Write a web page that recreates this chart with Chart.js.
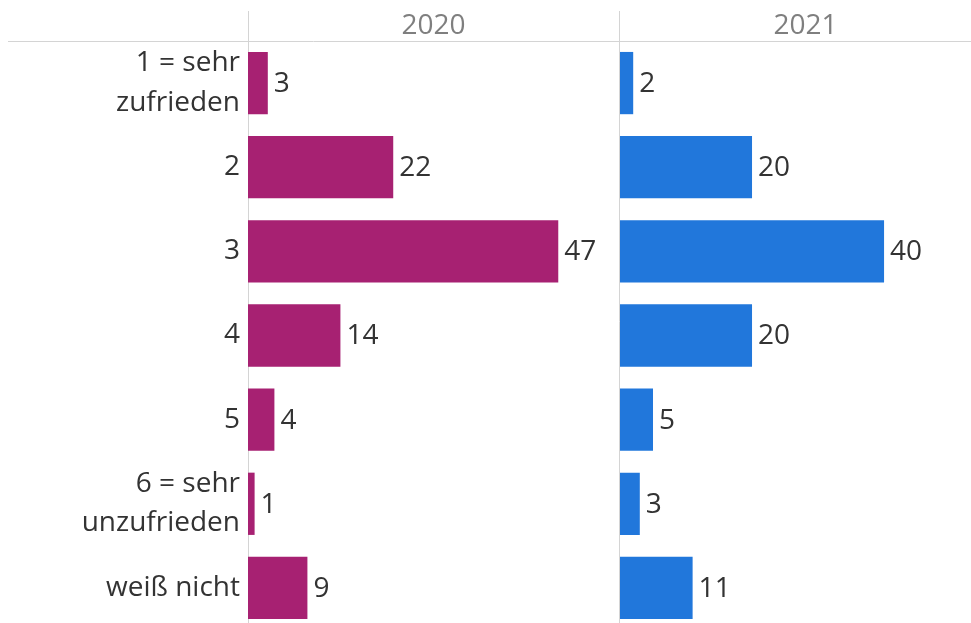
<!DOCTYPE html>
<html>
<head>
<meta charset="utf-8">
<script src="https://cdn.jsdelivr.net/npm/chart.js@4.4.0/dist/chart.umd.min.js"></script>
<style>
  html, body { margin: 0; padding: 0; background: #fff; overflow: hidden; width: 971px; height: 623px; }
  .pane { position: absolute; top: 0; }
</style>
</head>
<body>
<div class="pane" style="left:0px;width:619px;height:632px"><canvas id="c2020" width="619" height="632"></canvas></div>
<div class="pane" style="left:619px;width:372px;height:632px"><canvas id="c2021" width="372" height="632"></canvas></div>
<script>
// categories and values
var categories = [['1 = sehr', 'zufrieden'], '2', '3', '4', '5', ['6 = sehr', 'unzufrieden'], 'weiß nicht'];
var years = ['2020', '2021'];
var values2020 = [3, 22, 47, 14, 4, 1, 9];
var values2021 = [2, 20, 40, 20, 5, 3, 11];
var xMax = 56.2;

var FONT = '"Open Sans", sans-serif';
var lineColor = '#d4d4d4';

// header text, separator lines and value labels
var decor = {
    id: 'decor',
    beforeDatasetsDraw: function (chart, args, opts) {
        var ctx = chart.ctx;
        var a = chart.chartArea;
        ctx.save();
        ctx.strokeStyle = lineColor;
        ctx.lineWidth = 1;
        ctx.beginPath();
        ctx.moveTo(opts.lineStart, 41.5);
        ctx.lineTo(chart.width, 41.5);
        ctx.moveTo(opts.lineX, 11);
        ctx.lineTo(opts.lineX, chart.height);
        ctx.stroke();
        ctx.fillStyle = '#7f7f7f';
        ctx.font = '28px ' + FONT;
        ctx.textAlign = 'center';
        ctx.textBaseline = 'middle';
        ctx.fillText(opts.title, (a.left + a.right) / 2, 26);
        ctx.restore();
    },
    afterDatasetsDraw: function (chart) {
        var ctx = chart.ctx;
        var data = chart.data.datasets[0].data;
        ctx.save();
        ctx.fillStyle = '#333333';
        ctx.font = '28px ' + FONT;
        ctx.textAlign = 'left';
        ctx.textBaseline = 'middle';
        chart.getDatasetMeta(0).data.forEach(function (bar, i) {
            ctx.fillText(String(data[i]), bar.x + 6, bar.y + 1);
        });
        ctx.restore();
    }
};

function make_chart(id, values, color, title, showLabels) {
    new Chart(document.getElementById(id), {
        type: 'bar',
        data: {
            labels: categories,
            datasets: [{
                data: values,
                backgroundColor: color,
                borderWidth: 0,
                categoryPercentage: 1,
                barPercentage: 0.74
            }]
        },
        options: {
            indexAxis: 'y',
            responsive: false,
            animation: false,
            layout: { padding: { top: 41, bottom: 2, left: showLabels ? 0 : 1, right: 0 } },
            scales: {
                x: { display: false, min: 0, max: xMax },
                y: {
                    display: showLabels,
                    grid: { display: false, drawTicks: false },
                    border: { display: false },
                    ticks: {
                        color: '#333333',
                        padding: 8,
                        font: { family: FONT, size: 28, lineHeight: 1.4 }
                    },
                    afterFit: function (scale) {
                        scale.width = showLabels ? 248 : 0;
                        scale.paddingTop = 0;
                        scale.paddingBottom = 0;
                    }
                }
            },
            plugins: {
                legend: { display: false },
                tooltip: { enabled: false },
                decor: { title: title, lineStart: showLabels ? 8 : 0, lineX: showLabels ? 248.5 : 0.5 }
            }
        },
        plugins: [decor]
    });
}

function draw() {
    make_chart('c2020', values2020, '#a72172', years[0], true);
    make_chart('c2021', values2021, '#2177db', years[1], false);
}

document.fonts.load('28px "Open Sans"').then(draw, draw);
</script>
</body>
</html>
